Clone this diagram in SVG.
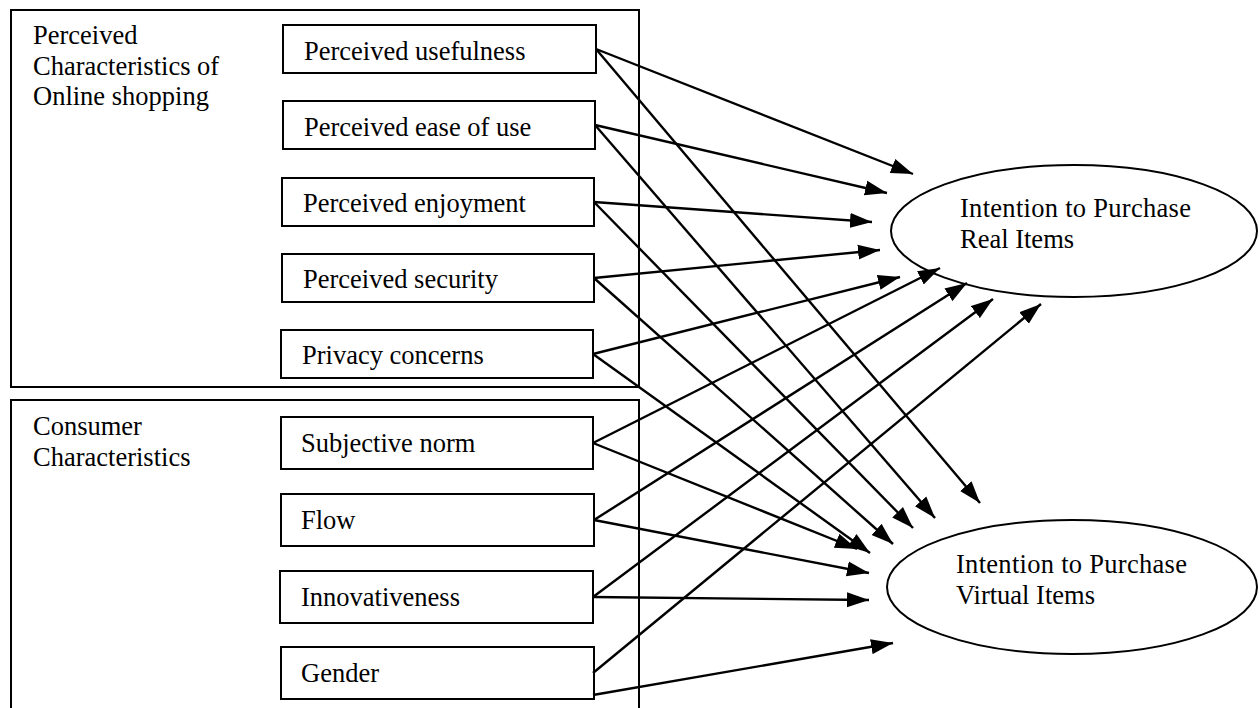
<svg xmlns="http://www.w3.org/2000/svg" width="1259" height="708" viewBox="0 0 1259 708">
<style>
text{font-family:"Liberation Serif","Times New Roman",serif;font-size:26.5px;fill:#000}
.frame{fill:none;stroke:#000;stroke-width:2}
.box{fill:#fff;stroke:#000;stroke-width:2}
.ell{fill:#fff;stroke:#000;stroke-width:2}
.c line{stroke:#000;stroke-width:2.4;marker-end:url(#ah)}
</style>
<defs>
<marker id="ah" markerUnits="userSpaceOnUse" markerWidth="24" markerHeight="16" refX="22" refY="8" orient="auto">
<path d="M0,0.5 L22,8 L0,15.5 z" fill="#000"/>
</marker>
</defs>
<rect width="1259" height="708" fill="#fff"/>
<g id="group-perceived">
<rect class="frame" x="11" y="10" width="628" height="377"/>
<text x="33" y="44">Perceived</text>
<text x="33" y="75">Characteristics of</text>
<text x="33" y="105">Online shopping</text>
</g>
<g id="group-consumer">
<path class="frame" d="M11,710 V400 H639 V710"/>
<text x="33" y="435">Consumer</text>
<text x="33" y="466">Characteristics</text>
</g>
<g id="n-usefulness"><rect class="box" x="283" y="25" width="313" height="48"/><text x="304" y="60">Perceived usefulness</text></g>
<g id="n-ease"><rect class="box" x="283" y="101" width="312" height="48"/><text x="304" y="136">Perceived ease of use</text></g>
<g id="n-enjoyment"><rect class="box" x="282" y="178" width="312" height="48"/><text x="303" y="212">Perceived enjoyment</text></g>
<g id="n-security"><rect class="box" x="282" y="254" width="312" height="48"/><text x="303" y="288">Perceived security</text></g>
<g id="n-privacy"><rect class="box" x="281" y="330" width="312" height="48"/><text x="302" y="364">Privacy concerns</text></g>
<g id="n-subjective"><rect class="box" x="281" y="417" width="312" height="52"/><text x="301" y="452">Subjective norm</text></g>
<g id="n-flow"><rect class="box" x="281" y="494" width="313" height="52"/><text x="301" y="529">Flow</text></g>
<g id="n-innov"><rect class="box" x="280" y="571" width="313" height="52"/><text x="301" y="606">Innovativeness</text></g>
<g id="n-gender"><rect class="box" x="281" y="647" width="313" height="52"/><text x="301" y="682">Gender</text></g>
<g id="n-real"><ellipse class="ell" cx="1074" cy="231" rx="183" ry="66"/><text x="960" y="217" textLength="231" lengthAdjust="spacing">Intention to Purchase</text><text x="960" y="248">Real Items</text></g>
<g id="n-virtual"><ellipse class="ell" cx="1072" cy="587" rx="185" ry="67"/><text x="956" y="573" textLength="231" lengthAdjust="spacing">Intention to Purchase</text><text x="956" y="604">Virtual Items</text></g>
<g id="connectors" class="c">
<line x1="596" y1="49" x2="913" y2="174"/>
<line x1="595" y1="125" x2="887" y2="193"/>
<line x1="594" y1="202" x2="872" y2="222"/>
<line x1="594" y1="278" x2="880" y2="250"/>
<line x1="593" y1="354" x2="900" y2="277"/>
<line x1="593" y1="443" x2="940" y2="268"/>
<line x1="594" y1="520" x2="967" y2="283"/>
<line x1="593" y1="597" x2="993" y2="299"/>
<line x1="593" y1="673" x2="1041" y2="304"/>
<line x1="596" y1="49" x2="980" y2="503"/>
<line x1="595" y1="125" x2="935" y2="518"/>
<line x1="594" y1="202" x2="913" y2="528"/>
<line x1="594" y1="278" x2="893" y2="544"/>
<line x1="593" y1="354" x2="870" y2="553"/>
<line x1="593" y1="443" x2="857" y2="549"/>
<line x1="594" y1="520" x2="869" y2="573"/>
<line x1="593" y1="597" x2="869" y2="600"/>
<line x1="593" y1="695" x2="893" y2="643"/>
</g>
</svg>
